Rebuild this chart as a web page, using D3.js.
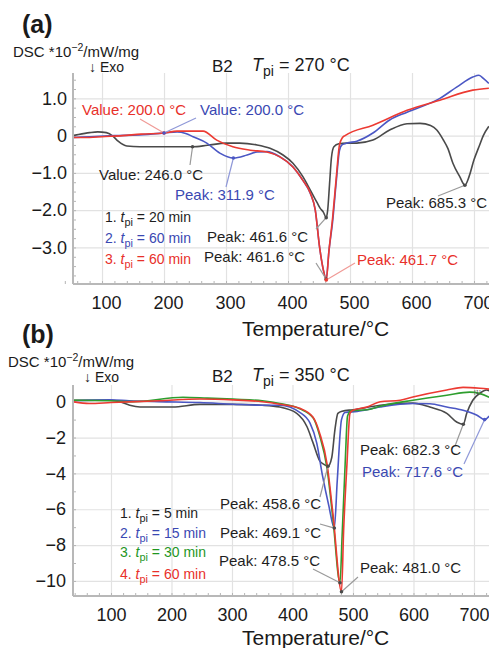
<!DOCTYPE html>
<html>
<head>
<meta charset="utf-8">
<script src="https://cdn.jsdelivr.net/npm/d3@7"></script>
<style>
  body { margin: 0; background: #fff; }
  svg { display: block; font-family: "Liberation Sans", Arial, sans-serif; }
</style>
</head>
<body>
<svg id="chart" width="489" height="648"></svg>
<script>
// ---- data: [temperature °C, DSC *10^-2 mW/mg] ----
const tickX = [100, 200, 300, 400, 500, 600, 700]
const tickYA = [1, 0, -1, -2, -3]
const tickYALabels = ['1.0', '0', '\u22121.0', '\u22122.0', '\u22123.0']
const tickYB = [0, -2, -4, -6, -8, -10]
const tickYBLabels = ['0', '\u22122', '\u22124', '\u22126', '\u22128', '\u221210']

// panel (a), Tpi = 270 °C
const a20 = [[53,0.0],[62,0.03],[80,0.08],[93,0.1],[107,0.08],[118,-0.02],[126,-0.15],[140,-0.28],[161,-0.3],[200,-0.3],[246,-0.3],[270,-0.26],[300,-0.2],[322,-0.2],[350,-0.25],[371,-0.34],[392,-0.52],[408,-0.74],[424,-1.1],[436,-1.46],[447,-1.8],[452,-1.95],[457,-2.05],[461.6,-2.2],[464,-2.0],[467,-1.3],[470,-0.6],[474,-0.3],[482,-0.22],[495,-0.2],[511,-0.2],[537,-0.12],[564,0.15],[592,0.32],[613,0.33],[630,0.27],[640,0.15],[650,-0.1],[658,-0.35],[666,-0.74],[677,-1.1],[685.3,-1.33],[692,-1.1],[700,-0.65],[708,-0.3],[715,0.0],[724,0.25]]
const a60b = [[53,-0.05],[80,-0.03],[120,0.0],[160,0.02],[200,0.07],[221,0.1],[235,0.06],[247,-0.03],[269,-0.2],[290,-0.47],[311.9,-0.6],[334,-0.52],[350,-0.44],[366,-0.43],[387,-0.57],[408,-0.84],[424,-1.2],[436,-1.55],[444,-2.0],[451,-3.0],[457,-3.6],[461.6,-3.85],[466,-3.1],[472,-2.3],[478,-1.2],[483,-0.4],[487,-0.25],[495,-0.2],[511,-0.15],[537,0.07],[564,0.42],[592,0.63],[645,1.0],[672,1.3],[698,1.57],[708,1.62],[716,1.52],[724,1.4]]
const a60r = [[53,-0.05],[80,-0.05],[100,-0.03],[133,0.0],[163,0.04],[200,0.07],[221,0.12],[263,0.12],[285,-0.12],[311,-0.3],[339,-0.39],[366,-0.44],[387,-0.57],[408,-0.84],[424,-1.2],[436,-1.54],[444,-2.0],[451,-3.0],[457,-3.6],[461.7,-3.87],[466,-3.1],[472,-2.2],[478,-1.1],[483,-0.25],[488,-0.05],[492,0.0],[537,0.28],[592,0.68],[645,0.95],[698,1.22],[724,1.27]]

// panel (b), Tpi = 350 °C
const b5 = [[37,0.08],[98,0.08],[115,0.0],[131,-0.2],[148,-0.3],[202,-0.3],[247,-0.15],[302,-0.15],[350,-0.2],[379,-0.3],[407,-0.65],[424,-1.4],[434,-2.3],[445,-3.3],[452,-3.5],[458.6,-3.6],[465,-3.1],[470,-1.6],[475,-0.65],[482,-0.53],[500,-0.45],[545,-0.2],[599,-0.08],[627,-0.3],[655,-0.65],[672,-1.15],[682.3,-1.26],[688,-0.65],[698,0.08],[710,0.48],[721,0.65],[725,0.6]]
const b15 = [[37,0.05],[98,0.1],[130,0.05],[180,0.0],[247,-0.05],[302,-0.14],[350,-0.2],[379,-0.2],[412,-0.6],[429,-1.2],[440,-2.3],[450,-4.2],[460,-5.8],[469.1,-7.05],[474,-4.4],[481,-1.0],[487,-0.6],[507,-0.55],[545,-0.3],[599,-0.1],[627,-0.12],[655,-0.3],[682,-0.48],[705,-0.76],[717.6,-1.0],[725,-0.8]]
const b30 = [[37,0.08],[100,0.05],[136,0.0],[219,0.25],[259,0.2],[302,0.14],[350,0.05],[379,-0.1],[412,-0.4],[434,-0.9],[445,-1.9],[457,-3.7],[467,-6.6],[478.5,-10.1],[482,-7.5],[487,-3.5],[491,-0.8],[497,-0.5],[523,-0.45],[545,-0.25],[599,0.08],[655,0.36],[693,0.53],[710,0.45],[725,0.25]]
const b60 = [[37,0.0],[64,-0.1],[100,-0.05],[180,0.05],[247,0.15],[302,0.1],[350,0.0],[379,-0.14],[412,-0.37],[434,-0.87],[445,-1.77],[457,-3.45],[467,-6.3],[481,-10.6],[484.5,-7.2],[490,-3.5],[495,-0.65],[500,-0.48],[523,-0.3],[545,0.0],[578,0.08],[599,0.26],[655,0.65],[682,0.8],[710,0.75],[725,0.7]]

// annotations: [text, T, value, colour key]
const notesA = [
  ['Value: 200.0 \u00b0C', 200, 0.07, 'r'],
  ['Value: 200.0 \u00b0C', 200, 0.07, 'b'],
  ['Value: 246.0 \u00b0C', 246, -0.3, 'k'],
  ['Peak: 311.9 \u00b0C', 311.9, -0.6, 'b'],
  ['Peak: 461.6 \u00b0C', 461.6, -2.2, 'k'],
  ['Peak: 461.6 \u00b0C', 461.6, -3.85, 'k'],
  ['Peak: 461.7 \u00b0C', 461.7, -3.87, 'r'],
  ['Peak: 685.3 \u00b0C', 685.3, -1.33, 'k']
]
const notesB = [
  ['Peak: 682.3 \u00b0C', 682.3, -1.26, 'k'],
  ['Peak: 717.6 \u00b0C', 717.6, -1.0, 'b'],
  ['Peak: 458.6 \u00b0C', 458.6, -3.6, 'k'],
  ['Peak: 469.1 \u00b0C', 469.1, -7.05, 'k'],
  ['Peak: 478.5 \u00b0C', 478.5, -10.1, 'k'],
  ['Peak: 481.0 \u00b0C', 481.0, -10.6, 'k']
]
const legendA = [['1.', '20', 'k'], ['2.', '60', 'b'], ['3.', '60', 'r']]
const legendB = [['1.', '5', 'k'], ['2.', '15', 'b'], ['3.', '30', 'g'], ['4.', '60', 'r']]

// ---- styling / layout ----
const lineCol = { k: '#4a4a4a', b: '#4b57c4', r: '#ec3a32', g: '#2e9e2e' }
const textCol = { k: '#1e1e1e', b: '#3a48b2', r: '#e8302a', g: '#1f961f' }
const leadCol = { k: '#9a9a9a', b: '#8f98d8', r: '#f09a96', g: '#8fc88f' }

// text position [x, baseline y] and leader end [x, y] for each note
const noteLayoutA = [[82,115,140,119],[200,115,196,118],[99,180,190,165],[175,200,226,187],[207,242,316,229],[204,262,316,263],[357,265,355,263],[386,208,438,196]]
const noteLayoutB = [[360,455,455,446],[362,477,464,464],[220,509,320,497],[220,538,320,524],[219,566,313,569],[360,573,358,577]]

const svg = d3.select('#chart')

function richText(g, x, y, size, color, parts, weight) {
  const t = g.append('text').attr('x', x).attr('y', y)
    .attr('font-size', size).attr('fill', color)
  if (weight) t.attr('font-weight', weight)
  parts.forEach(p => {
    const s = t.append('tspan').text(p.s)
    if (p.it) s.attr('font-style', 'italic')
    if (p.sub) s.attr('font-size', size * 0.78).attr('dy', size * 0.3)
    if (p.sup) s.attr('font-size', size * 0.7).attr('dy', -size * 0.38)
    if (p.dy) s.attr('dy', p.dy)
  })
  return t
}

function drawPanel(cfg) {
  const x = d3.scaleLinear().domain(cfg.xDomain).range([73, 489])
  const y = d3.scaleLinear().domain(cfg.yDomain).range([cfg.bottom, cfg.top])
  const g = svg.append('g')

  // grid
  g.append('g').attr('transform', `translate(0,${cfg.bottom})`)
    .call(d3.axisBottom(x).tickValues(tickX).tickSize(-(cfg.bottom - cfg.top)).tickFormat(''))
    .call(a => a.select('.domain').remove())
    .call(a => a.selectAll('line').attr('stroke', '#e2e2e2').attr('stroke-width', 1.2))
  g.append('g').attr('transform', 'translate(73,0)')
    .call(d3.axisLeft(y).tickValues(cfg.yTicks).tickSize(-416).tickFormat(''))
    .call(a => a.select('.domain').remove())
    .call(a => a.selectAll('line').attr('stroke', '#e2e2e2').attr('stroke-width', 1.2))

  // minor ticks
  g.append('g').attr('transform', `translate(0,${cfg.bottom})`)
    .call(d3.axisBottom(x).tickValues(d3.range(40, 730, 20)).tickSize(-3).tickFormat(''))
    .call(a => a.select('.domain').remove())
    .call(a => a.selectAll('line').attr('stroke', '#b5b5b5'))
  g.append('g').attr('transform', 'translate(73,0)')
    .call(d3.axisLeft(y).tickValues(cfg.yMinor).tickSize(-3).tickFormat(''))
    .call(a => a.select('.domain').remove())
    .call(a => a.selectAll('line').attr('stroke', '#b5b5b5'))

  // axis lines
  g.append('line').attr('x1', 73).attr('x2', 489).attr('y1', cfg.bottom).attr('y2', cfg.bottom)
    .attr('stroke', '#b8b8b8').attr('stroke-width', 2)
  g.append('line').attr('x1', 73).attr('x2', 73).attr('y1', cfg.top).attr('y2', cfg.bottom)
    .attr('stroke', '#b8b8b8').attr('stroke-width', 2)

  // tick labels
  const xa = g.append('g').attr('transform', `translate(${cfg.xLabelShift},${cfg.bottom})`)
    .call(d3.axisBottom(x).tickValues(tickX).tickSize(0).tickPadding(cfg.xPad))
  xa.select('.domain').remove()
  xa.selectAll('text').attr('font-size', 18).attr('fill', '#1a1a1a')
    .attr('font-family', '"Liberation Sans", Arial, sans-serif')
  const ya = g.append('g').attr('transform', 'translate(73,0)')
    .call(d3.axisLeft(y).tickValues(cfg.yTicks).tickSize(0).tickPadding(cfg.yPad)
      .tickFormat((d, i) => cfg.yLabels[i]))
  ya.select('.domain').remove()
  ya.selectAll('text').attr('font-size', 18).attr('fill', '#1a1a1a')
    .attr('font-family', '"Liberation Sans", Arial, sans-serif')

  // curves
  const clipId = 'clip' + cfg.id
  svg.append('clipPath').attr('id', clipId).append('rect')
    .attr('x', 74).attr('y', cfg.top - 5).attr('width', 420).attr('height', cfg.bottom - cfg.top + 4)
  const line = d3.line().x(d => x(d[0])).y(d => y(d[1])).curve(d3.curveMonotoneX)
  cfg.series.forEach(s => {
    g.append('path').datum(s.data).attr('d', line)
      .attr('fill', 'none').attr('stroke', lineCol[s.c]).attr('stroke-width', 1.6)
      .attr('clip-path', `url(#${clipId})`)
  })

  // annotations
  cfg.notes.forEach((n, i) => {
    const L = cfg.layout[i]
    const px = x(n[1]), py = y(n[2])
    g.append('line').attr('x1', px).attr('y1', py).attr('x2', L[2]).attr('y2', L[3])
      .attr('stroke', leadCol[n[3]]).attr('stroke-width', 1.2)
    g.append('circle').attr('cx', px).attr('cy', py).attr('r', 1.8).attr('fill', lineCol[n[3]])
    g.append('text').attr('x', L[0]).attr('y', L[1]).text(n[0])
      .attr('font-size', 15).attr('fill', textCol[n[3]])
  })

  // legend
  cfg.legend.forEach((l, i) => {
    richText(g, cfg.legX, cfg.legY[i], 14, textCol[l[2]], [
      { s: l[0] + ' ' }, { s: 't', it: true }, { s: 'pi', sub: true },
      { s: ' = ' + l[1] + ' min', dy: -14 * 0.3 }
    ])
  })

  // headings
  richText(g, cfg.tag[0], cfg.tag[1], 25, '#1a1a1a', [{ s: cfg.tagText }], 'bold')
  richText(g, cfg.dsc[0], cfg.dsc[1], 15, '#1a1a1a', [
    { s: 'DSC *10' }, { s: '\u22122', sup: true }, { s: '/mW/mg', dy: 15 * 0.38 }
  ])
  g.append('text').attr('x', cfg.dsc[0] + 76).attr('y', cfg.dsc[1] + 15)
    .attr('font-size', 14).attr('fill', '#1a1a1a').text('\u2193 Exo')
  g.append('text').attr('x', 212).attr('y', cfg.dsc[1] + 15)
    .attr('font-size', 17).attr('fill', '#1a1a1a').text('B2')
  richText(g, 252, cfg.dsc[1] + 14, 18, '#1a1a1a', [
    { s: 'T', it: true }, { s: 'pi', sub: true }, { s: ' = ' + cfg.tpi + ' \u00b0C', dy: -18 * 0.3 }
  ])
  g.append('text').attr('x', 242).attr('y', cfg.xTitleY)
    .attr('font-size', 21).attr('fill', '#1a1a1a').text('Temperature/\u00b0C')
}

drawPanel({
  id: 'a', xDomain: [53.2, 724.2], yDomain: [-3.98, 1.68], top: 73, bottom: 284,
  yTicks: tickYA, yLabels: tickYALabels, yMinor: d3.range(-3.75, 1.7, 0.25),
  xLabelShift: 4, xPad: 12, yPad: 6,
  series: [{ data: a20, c: 'k' }, { data: a60b, c: 'b' }, { data: a60r, c: 'r' }],
  notes: notesA, layout: noteLayoutA,
  legend: legendA, legX: 105, legY: [222, 243, 264],
  tag: [22, 33], tagText: '(a)', dsc: [13, 57], tpi: '270', xTitleY: 336
})

drawPanel({
  id: 'b', xDomain: [37.2, 724.8], yDomain: [-10.84, 0.93], top: 385, bottom: 596,
  yTicks: tickYB, yLabels: tickYBLabels, yMinor: d3.range(-10, 1, 1),
  xLabelShift: 0, xPad: 12, yPad: 7,
  series: [{ data: b5, c: 'k' }, { data: b15, c: 'b' }, { data: b30, c: 'g' }, { data: b60, c: 'r' }],
  notes: notesB, layout: noteLayoutB,
  legend: legendB, legX: 120, legY: [518, 538, 557, 579],
  tag: [22, 343], tagText: '(b)', dsc: [8, 367], tpi: '350', xTitleY: 645
})

svg.append('text').attr('x', 474).attr('y', 394).attr('font-size', 6)
  .attr('fill', '#555').text('[1]')
</script>
</body>
</html>
